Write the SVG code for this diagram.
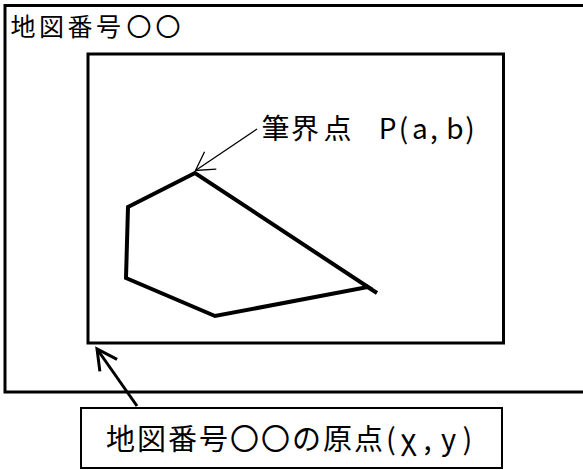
<svg xmlns="http://www.w3.org/2000/svg" width="583" height="470" viewBox="0 0 583 470">
<style>
.frame{fill:none;stroke:#000;stroke-width:3}
.box{fill:#fff;stroke:#000;stroke-width:2}
.parcel{fill:none;stroke:#000;stroke-width:4;stroke-linejoin:miter;stroke-linecap:butt}
.t{font-family:"Noto Sans CJK JP","Noto Sans",sans-serif;fill:#000;text-anchor:middle}
.thin{fill:none;stroke:#000;stroke-width:1.3}
.thick{fill:none;stroke:#000;stroke-width:3}
</style>
<defs>
<marker id="openThin" markerUnits="userSpaceOnUse" markerWidth="30" markerHeight="30" viewBox="-25 -15 30 30" refX="0" refY="0" orient="auto" overflow="visible">
<path d="M-18,-10.5 L0,0 L-18,10.5" fill="none" stroke="#000" stroke-width="1.3"/>
</marker>
<marker id="openThick" markerUnits="userSpaceOnUse" markerWidth="30" markerHeight="30" viewBox="-25 -15 30 30" refX="0" refY="0" orient="auto" overflow="visible">
<path d="M-20,-10.5 L0,0 L-20,10.5" fill="none" stroke="#000" stroke-width="3"/>
</marker>
</defs>
<g id="map-sheet">
<rect class="frame" x="5" y="5.5" width="600" height="386.5"/>
<text class="t" font-size="25" x="23 51.5 80 108.5 139 168" y="36">地図番号〇〇</text>
</g>
<g id="map-area">
<rect class="frame" x="88" y="54" width="415.5" height="289"/>
</g>
<g id="parcel">
<polygon class="parcel" points="195,173 128,207 126,278 215,316 368,287"/>
<line class="parcel" x1="366" y1="286" x2="377" y2="293"/>
</g>
<g id="boundary-label">
<text class="t" font-size="28" y="139" x="275.5 305 337.5 387.5 403.5 420 434 455 470">筆界点P(a,b)</text>
</g>
<g id="origin-label">
<rect class="box" x="81" y="408" width="421" height="60"/>
<text class="t" font-size="29" y="450" x="120.5 151.5 182.5 213.5 244.5 275.5 306.5 337.5 368.5 391 408.5 427.5 448.5 467.5">地図番号〇〇の原点(χ,y)</text>
</g>
<g id="connectors">
<line class="thin" x1="257" y1="129" x2="195.5" y2="170.5" marker-end="url(#openThin)"/>
<line class="thick" x1="137" y1="406" x2="97" y2="349" marker-end="url(#openThick)"/>
</g>
</svg>
